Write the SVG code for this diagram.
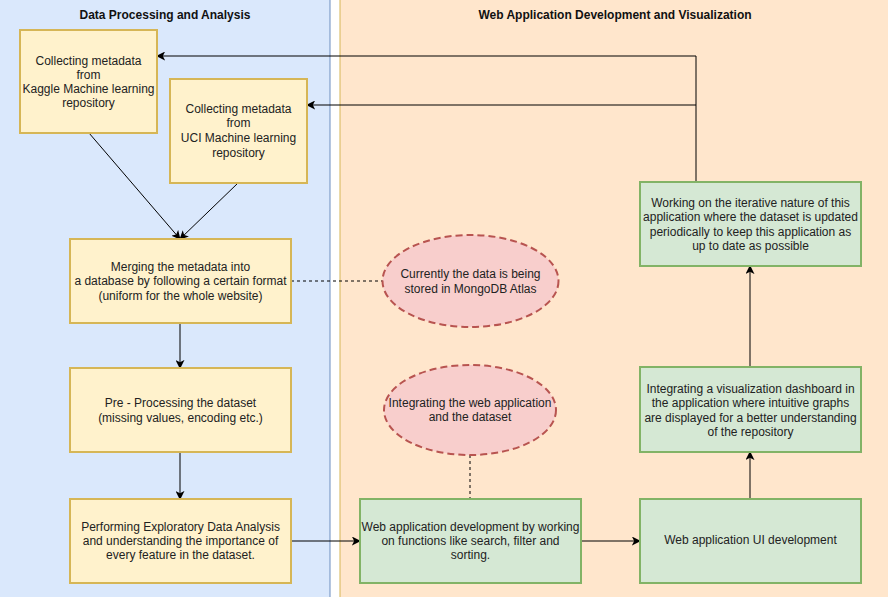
<svg xmlns="http://www.w3.org/2000/svg" width="888" height="597" viewBox="0 0 888 597">
<style>
text{font-family:"Liberation Sans",Arial,sans-serif;font-size:12px;fill:#222;text-anchor:middle;dominant-baseline:central}
.title{font-size:12px;font-weight:bold;fill:#111}
.y{fill:#fff2cc;stroke:#d6b656;stroke-width:2}
.g{fill:#d5e8d4;stroke:#82b366;stroke-width:2}
.e{fill:#f8cecc;stroke:#b85450;stroke-width:2;stroke-dasharray:7 4}
.c{fill:none;stroke:#000;stroke-width:1}
.d{fill:none;stroke:#000;stroke-width:1;stroke-dasharray:3 3}
</style>
<defs>
<marker id="a" viewBox="0 0 10 10" refX="9" refY="5" markerWidth="9" markerHeight="9" markerUnits="userSpaceOnUse" orient="auto">
<path d="M0,0 L10,5 L0,10 L2.5,5 Z" fill="#000"/>
</marker>
</defs>
<g id="lane-left">
<rect x="-1" y="-1" width="331" height="600" fill="#dae8fc" stroke="#6c8ebf" stroke-width="1"/>
<text class="title" x="165" y="15">Data Processing and Analysis</text>
</g>
<g id="lane-right">
<rect x="340" y="-1" width="550" height="600" fill="#ffe6cc" stroke="#d6b656" stroke-width="1"/>
<text class="title" x="615" y="15">Web Application Development and Visualization</text>
</g>
<g id="connectors">
<path class="c" d="M89,133 L180,239" marker-end="url(#a)"/>
<path class="c" d="M238,183 L180,239" marker-end="url(#a)"/>
<path class="c" d="M180,323 L180,368" marker-end="url(#a)"/>
<path class="c" d="M180,452 L180,499" marker-end="url(#a)"/>
<path class="c" d="M291,541 L360,541" marker-end="url(#a)"/>
<path class="c" d="M581,541 L640,541" marker-end="url(#a)"/>
<path class="c" d="M750,499 L750,452" marker-end="url(#a)"/>
<path class="c" d="M750,367 L750,266" marker-end="url(#a)"/>
<path class="c" d="M696,182 L696,56 L157,56" marker-end="url(#a)"/>
<path class="c" d="M696,105 L307,105" marker-end="url(#a)"/>
<path class="d" d="M291,281 L383,281"/>
<path class="d" d="M470,455 L470,499"/>
</g>
<g id="kaggle">
<rect class="y" x="20" y="30" width="137" height="103"/>
<text x="88.5" y="61">Collecting metadata</text>
<text x="88.5" y="75">from</text>
<text x="88.5" y="89">Kaggle Machine learning</text>
<text x="88.5" y="103">repository</text>
</g>
<g id="uci">
<rect class="y" x="170" y="79" width="137" height="104"/>
<text x="238.5" y="109">Collecting metadata</text>
<text x="238.5" y="123">from</text>
<text x="238.5" y="138">UCI Machine learning</text>
<text x="238.5" y="153">repository</text>
</g>
<g id="merge">
<rect class="y" x="70" y="239" width="221" height="84"/>
<text x="180.5" y="267">Merging the metadata into</text>
<text x="180.5" y="281">a database by following a certain format</text>
<text x="180.5" y="296">(uniform for the whole website)</text>
</g>
<g id="preprocess">
<rect class="y" x="70" y="368" width="221" height="84"/>
<text x="180.5" y="403">Pre - Processing the dataset</text>
<text x="180.5" y="418">(missing values, encoding etc.)</text>
</g>
<g id="eda">
<rect class="y" x="70" y="499" width="221" height="84"/>
<text x="180.5" y="527">Performing Exploratory Data Analysis</text>
<text x="180.5" y="541">and understanding the importance of</text>
<text x="180.5" y="555">every feature in the dataset.</text>
</g>
<g id="mongo">
<ellipse class="e" cx="470.5" cy="281" rx="88" ry="46"/>
<text x="470.5" y="274">Currently the data is being</text>
<text x="470.5" y="289">stored in MongoDB Atlas</text>
</g>
<g id="integrate">
<ellipse class="e" cx="470" cy="410" rx="86" ry="45"/>
<text x="470" y="403">Integrating the web application</text>
<text x="470" y="417">and the dataset</text>
</g>
<g id="webdev">
<rect class="g" x="360" y="499" width="221" height="84"/>
<text x="470.5" y="527">Web application development by working</text>
<text x="470.5" y="541">on functions like search, filter and</text>
<text x="470.5" y="555">sorting.</text>
</g>
<g id="ui">
<rect class="g" x="640" y="499" width="221" height="84"/>
<text x="750.5" y="540">Web application UI development</text>
</g>
<g id="vis">
<rect class="g" x="640" y="367" width="221" height="85"/>
<text x="750.5" y="389">Integrating a visualization dashboard in</text>
<text x="750.5" y="403">the application where intuitive graphs</text>
<text x="750.5" y="418">are displayed for a better understanding</text>
<text x="750.5" y="432">of the repository</text>
</g>
<g id="iterative">
<rect class="g" x="640" y="182" width="221" height="84"/>
<text x="750.5" y="203">Working on the iterative nature of this</text>
<text x="750.5" y="217">application where the dataset is updated</text>
<text x="750.5" y="232">periodically to keep this application as</text>
<text x="750.5" y="246">up to date as possible</text>
</g>
</svg>
